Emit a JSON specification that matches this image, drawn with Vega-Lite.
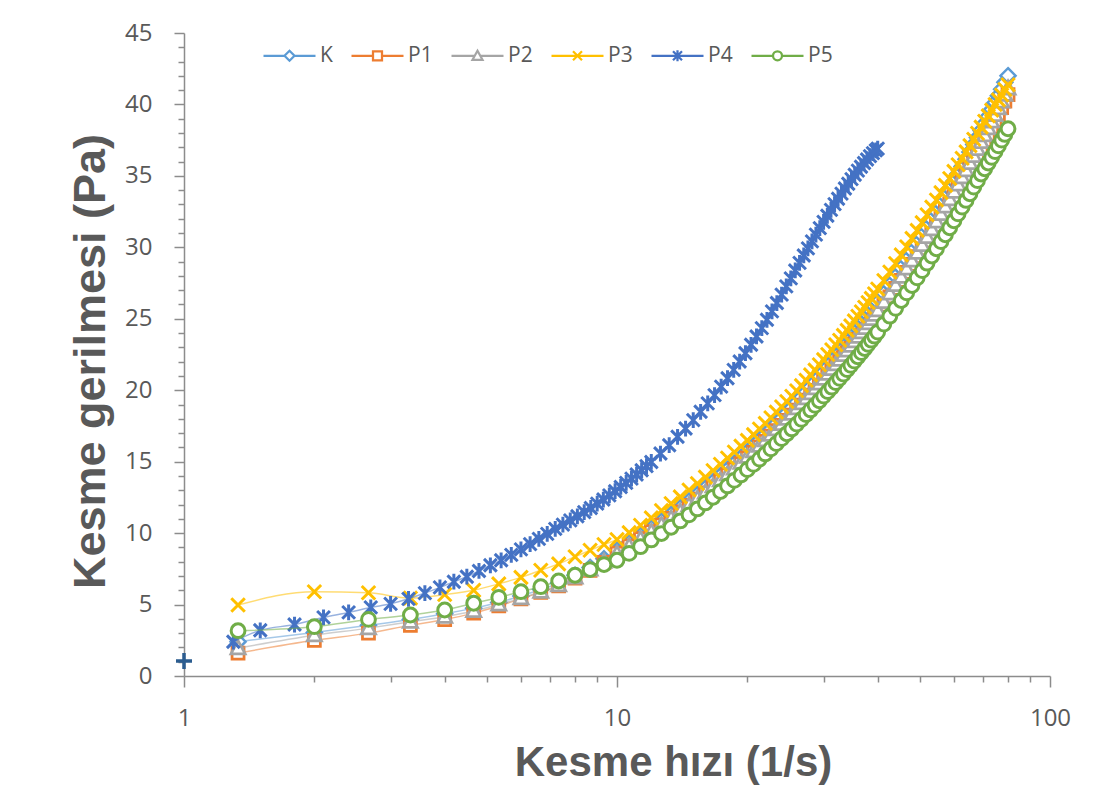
{
"$schema":"https://vega.github.io/schema/vega-lite/v6.json",
"width":866,"height":643,
"autosize":{"type":"none"},
"padding":{"left":184,"top":33,"right":53,"bottom":129},
"background":"white",
"config":{"view":{"stroke":null}},
"data":{"values":[
{"x":1.333,"K":2.40,"P1":1.60,"P2":1.95,"P3":4.97,"P5":3.17},
{"x":2.0,"K":3.05,"P1":2.50,"P2":2.85,"P3":5.90,"P5":3.45},
{"x":2.667,"K":3.55,"P1":3.00,"P2":3.35,"P3":5.83,"P5":3.96},
{"x":3.333,"K":3.95,"P1":3.55,"P2":3.80,"P3":5.45,"P5":4.27},
{"x":4.0,"K":4.35,"P1":3.95,"P2":4.15,"P3":5.70,"P5":4.62},
{"x":4.667,"K":4.75,"P1":4.40,"P2":4.55,"P3":6.00,"P5":5.09},
{"x":5.333,"K":5.15,"P1":4.90,"P2":5.00,"P3":6.45,"P5":5.50},
{"x":6.0,"K":5.60,"P1":5.40,"P2":5.45,"P3":6.90,"P5":5.90},
{"x":6.667,"K":6.05,"P1":5.85,"P2":5.90,"P3":7.40,"P5":6.25},
{"x":7.333,"K":6.50,"P1":6.30,"P2":6.35,"P3":7.85,"P5":6.65},
{"x":8.0,"K":7.05,"P1":6.85,"P2":6.90,"P3":8.35,"P5":7.05},
{"x":8.667,"K":7.60,"P1":7.40,"P2":7.45,"P3":8.80,"P5":7.45},
{"x":9.333,"K":8.20,"P1":7.95,"P2":8.00,"P3":9.20,"P5":7.80},
{"x":10.0,"K":8.80,"P1":8.60,"P2":8.57,"P3":9.55,"P5":8.10},
{"x":10.667,"K":9.33,"P1":9.11,"P2":9.09,"P3":10.03,"P5":8.58},
{"x":11.333,"K":9.84,"P1":9.61,"P2":9.59,"P3":10.55,"P5":9.05},
{"x":12.0,"K":10.35,"P1":10.10,"P2":10.09,"P3":11.07,"P5":9.52},
{"x":12.667,"K":10.84,"P1":10.57,"P2":10.57,"P3":11.58,"P5":9.97},
{"x":13.333,"K":11.32,"P1":11.04,"P2":11.04,"P3":12.07,"P5":10.41},
{"x":14.0,"K":11.79,"P1":11.49,"P2":11.50,"P3":12.54,"P5":10.85},
{"x":14.667,"K":12.26,"P1":11.94,"P2":11.96,"P3":13.02,"P5":11.28},
{"x":15.333,"K":12.71,"P1":12.38,"P2":12.41,"P3":13.47,"P5":11.69},
{"x":16.0,"K":13.16,"P1":12.81,"P2":12.85,"P3":13.92,"P5":12.11},
{"x":16.667,"K":13.60,"P1":13.24,"P2":13.28,"P3":14.38,"P5":12.51},
{"x":17.333,"K":14.03,"P1":13.65,"P2":13.70,"P3":14.82,"P5":12.91},
{"x":18.0,"K":14.46,"P1":14.07,"P2":14.12,"P3":15.26,"P5":13.30},
{"x":18.667,"K":14.88,"P1":14.47,"P2":14.53,"P3":15.68,"P5":13.69},
{"x":19.333,"K":15.29,"P1":14.87,"P2":14.93,"P3":16.09,"P5":14.07},
{"x":20.0,"K":15.70,"P1":15.27,"P2":15.34,"P3":16.49,"P5":14.44},
{"x":20.667,"K":16.10,"P1":15.65,"P2":15.73,"P3":16.89,"P5":14.81},
{"x":21.333,"K":16.50,"P1":16.04,"P2":16.12,"P3":17.29,"P5":15.18},
{"x":22.0,"K":16.89,"P1":16.42,"P2":16.50,"P3":17.68,"P5":15.54},
{"x":22.667,"K":17.28,"P1":16.79,"P2":16.88,"P3":18.07,"P5":15.90},
{"x":23.333,"K":17.67,"P1":17.17,"P2":17.27,"P3":18.47,"P5":16.26},
{"x":24.0,"K":18.05,"P1":17.54,"P2":17.64,"P3":18.84,"P5":16.61},
{"x":24.667,"K":18.42,"P1":17.89,"P2":18.00,"P3":19.21,"P5":16.95},
{"x":25.333,"K":18.79,"P1":18.25,"P2":18.36,"P3":19.58,"P5":17.29},
{"x":26.0,"K":19.16,"P1":18.61,"P2":18.73,"P3":19.96,"P5":17.63},
{"x":26.667,"K":19.52,"P1":18.96,"P2":19.08,"P3":20.32,"P5":17.96},
{"x":27.333,"K":19.88,"P1":19.30,"P2":19.43,"P3":20.70,"P5":18.29},
{"x":28.0,"K":20.24,"P1":19.65,"P2":19.79,"P3":21.07,"P5":18.62},
{"x":28.667,"K":20.59,"P1":19.99,"P2":20.13,"P3":21.41,"P5":18.94},
{"x":29.333,"K":20.94,"P1":20.33,"P2":20.47,"P3":21.78,"P5":19.26},
{"x":30.0,"K":21.29,"P1":20.67,"P2":20.81,"P3":22.14,"P5":19.59},
{"x":30.667,"K":21.63,"P1":20.99,"P2":21.15,"P3":22.50,"P5":19.90},
{"x":31.333,"K":21.97,"P1":21.32,"P2":21.48,"P3":22.83,"P5":20.21},
{"x":32.0,"K":22.31,"P1":21.65,"P2":21.81,"P3":23.18,"P5":20.53},
{"x":32.667,"K":22.64,"P1":21.97,"P2":22.14,"P3":23.50,"P5":20.83},
{"x":33.333,"K":22.97,"P1":22.29,"P2":22.46,"P3":23.84,"P5":21.13},
{"x":34.0,"K":23.30,"P1":22.61,"P2":22.78,"P3":24.19,"P5":21.44},
{"x":34.667,"K":23.63,"P1":22.93,"P2":23.11,"P3":24.50,"P5":21.74},
{"x":35.333,"K":23.96,"P1":23.25,"P2":23.43,"P3":24.85,"P5":22.04},
{"x":36.0,"K":24.28,"P1":23.55,"P2":23.74,"P3":25.18,"P5":22.34},
{"x":36.667,"K":24.60,"P1":23.86,"P2":24.06,"P3":25.49,"P5":22.63},
{"x":37.333,"K":24.91,"P1":24.16,"P2":24.36,"P3":25.81,"P5":22.92},
{"x":38.0,"K":25.23,"P1":24.47,"P2":24.68,"P3":26.14,"P5":23.21},
{"x":38.667,"K":25.54,"P1":24.77,"P2":24.98,"P3":26.43,"P5":23.50},
{"x":39.333,"K":25.85,"P1":25.07,"P2":25.28,"P3":26.75,"P5":23.78},
{"x":40.0,"K":26.16,"P1":25.37,"P2":25.59,"P3":27.08,"P5":24.07},
{"x":41.333,"K":26.77,"P1":25.96,"P2":26.18,"P3":27.68,"P5":24.63},
{"x":42.667,"K":27.37,"P1":26.54,"P2":26.77,"P3":28.27,"P5":25.18},
{"x":44.0,"K":27.97,"P1":27.12,"P2":27.36,"P3":28.87,"P5":25.73},
{"x":45.333,"K":28.56,"P1":27.69,"P2":27.94,"P3":29.47,"P5":26.28},
{"x":46.667,"K":29.14,"P1":28.25,"P2":28.51,"P3":30.04,"P5":26.81},
{"x":48.0,"K":29.71,"P1":28.80,"P2":29.07,"P3":30.63,"P5":27.33},
{"x":49.333,"K":30.28,"P1":29.35,"P2":29.62,"P3":31.19,"P5":27.86},
{"x":50.667,"K":30.84,"P1":29.89,"P2":30.17,"P3":31.73,"P5":28.37},
{"x":52.0,"K":31.40,"P1":30.43,"P2":30.72,"P3":32.28,"P5":28.89},
{"x":53.333,"K":31.95,"P1":30.96,"P2":31.26,"P3":32.81,"P5":29.39},
{"x":54.667,"K":32.50,"P1":31.50,"P2":31.80,"P3":33.31,"P5":29.90},
{"x":56.0,"K":33.04,"P1":32.02,"P2":32.33,"P3":33.83,"P5":30.40},
{"x":57.333,"K":33.57,"P1":32.53,"P2":32.85,"P3":34.34,"P5":30.88},
{"x":58.667,"K":34.10,"P1":33.04,"P2":33.37,"P3":34.82,"P5":31.37},
{"x":60.0,"K":34.63,"P1":33.55,"P2":33.89,"P3":35.32,"P5":31.86},
{"x":61.333,"K":35.15,"P1":34.05,"P2":34.40,"P3":35.78,"P5":32.34},
{"x":62.667,"K":35.66,"P1":34.55,"P2":34.90,"P3":36.23,"P5":32.81},
{"x":64.0,"K":36.17,"P1":35.04,"P2":35.40,"P3":36.68,"P5":33.28},
{"x":65.333,"K":36.68,"P1":35.53,"P2":35.90,"P3":37.12,"P5":33.75},
{"x":66.667,"K":37.19,"P1":36.03,"P2":36.40,"P3":37.56,"P5":34.21},
{"x":68.0,"K":37.68,"P1":36.50,"P2":36.88,"P3":37.98,"P5":34.67},
{"x":69.333,"K":38.18,"P1":36.98,"P2":37.37,"P3":38.41,"P5":35.13},
{"x":70.667,"K":38.67,"P1":37.46,"P2":37.85,"P3":38.82,"P5":35.50},
{"x":72.0,"K":39.16,"P1":37.93,"P2":38.33,"P3":39.20,"P5":35.90},
{"x":73.333,"K":39.64,"P1":38.39,"P2":38.80,"P3":39.60,"P5":36.30},
{"x":74.667,"K":40.12,"P1":38.86,"P2":39.27,"P3":40.00,"P5":36.70},
{"x":76.0,"K":40.60,"P1":39.32,"P2":39.74,"P3":40.32,"P5":37.10},
{"x":77.333,"K":41.07,"P1":39.77,"P2":40.20,"P3":40.66,"P5":37.50},
{"x":78.667,"K":41.55,"P1":40.24,"P2":40.67,"P3":41.05,"P5":37.90},
{"x":80.0,"K":42.01,"P1":40.68,"P2":41.12,"P3":41.38,"P5":38.30},
{"x":1.3,"P4":2.4},{"x":1.5,"P4":3.2},{"x":1.8,"P4":3.6},{"x":2.1,"P4":4.1},{"x":2.4,"P4":4.45},
{"x":2.7,"P4":4.8},{"x":3.0,"P4":5.05},{"x":3.3,"P4":5.4},{"x":3.6,"P4":5.8},{"x":3.9,"P4":6.2},
{"x":4.2,"P4":6.6},{"x":4.5,"P4":6.95},{"x":4.8,"P4":7.35},{"x":5.1,"P4":7.75},{"x":5.4,"P4":8.1},
{"x":5.7,"P4":8.48},{"x":6.0,"P4":8.86},{"x":6.3,"P4":9.23},{"x":6.6,"P4":9.6},{"x":6.9,"P4":9.95},
{"x":7.2,"P4":10.3},{"x":7.5,"P4":10.59},{"x":7.8,"P4":10.89},{"x":8.1,"P4":11.18},{"x":8.4,"P4":11.47},
{"x":8.7,"P4":11.76},{"x":9.0,"P4":12.06},{"x":9.3,"P4":12.35},{"x":9.6,"P4":12.64},{"x":9.9,"P4":12.93},
{"x":10.2,"P4":13.23},{"x":10.5,"P4":13.52},{"x":10.8,"P4":13.81},{"x":11.1,"P4":14.10},{"x":11.4,"P4":14.40},
{"x":11.7,"P4":14.69},{"x":12.0,"P4":14.98},{"x":12.6,"P4":15.57},{"x":13.2,"P4":16.15},{"x":13.8,"P4":16.74},
{"x":14.4,"P4":17.32},{"x":15.0,"P4":17.91},{"x":15.6,"P4":18.49},{"x":16.2,"P4":19.08},{"x":16.8,"P4":19.66},
{"x":17.4,"P4":20.25},{"x":18.0,"P4":20.84},{"x":18.6,"P4":21.42},{"x":19.2,"P4":22.01},{"x":19.8,"P4":22.59},
{"x":20.4,"P4":23.18},{"x":21.0,"P4":23.76},{"x":21.6,"P4":24.35},{"x":22.2,"P4":24.93},{"x":22.8,"P4":25.52},
{"x":23.4,"P4":26.10},{"x":24.0,"P4":26.69},{"x":24.6,"P4":27.27},{"x":25.2,"P4":27.83},{"x":25.8,"P4":28.38},
{"x":26.4,"P4":28.91},{"x":27.0,"P4":29.43},{"x":27.6,"P4":29.93},{"x":28.2,"P4":30.42},{"x":28.8,"P4":30.89},
{"x":29.4,"P4":31.34},{"x":30.0,"P4":31.78},{"x":30.6,"P4":32.21},{"x":31.2,"P4":32.62},{"x":31.8,"P4":33.02},
{"x":32.4,"P4":33.40},{"x":33.0,"P4":33.76},{"x":33.6,"P4":34.12},{"x":34.2,"P4":34.45},{"x":34.8,"P4":34.77},
{"x":35.4,"P4":35.08},{"x":36.0,"P4":35.37},{"x":36.6,"P4":35.64},{"x":37.2,"P4":35.90},{"x":37.8,"P4":36.15},
{"x":38.4,"P4":36.38},{"x":39.0,"P4":36.59},{"x":39.6,"P4":36.79},{"x":40.0,"P4":36.91}
]},
"transform":[
{"fold":["K","P1","P2","P3","P4","P5"],"as":["s","y"]},
{"filter":"isValid(datum.y)"}
],
"resolve":{"axis":{"x":"independent","y":"independent"}},
"layer":[
{"transform":[{"filter":"datum.s == 'K'"}],
 "mark":{"type":"line","interpolate":"monotone","stroke":"#5B9BD5","strokeWidth":1.5,"strokeOpacity":0.55},
 "encoding":{
  "x":{"field":"x","type":"quantitative","scale":{"type":"log","domain":[1,100],"nice":false},
   "axis":{"orient":"bottom","values":[1,10,100],"format":"~g","grid":false,"tickSize":11,"labelPadding":19,"labelFont":"Open Sans","labelFontSize":24,"labelColor":"#595959","labelFlush":false,"domainColor":"#8c8c8c","domainWidth":1.5,"tickColor":"#8c8c8c","tickWidth":1.5,
    "title":"Kesme hızı (1/s)","titleFont":"Liberation Sans","titleFontSize":42,"titleFontWeight":"bold","titleColor":"#595959","titleX":489,"titleY":99,"titleAlign":"center","titleBaseline":"alphabetic"}},
  "y":{"field":"y","type":"quantitative","scale":{"domain":[0,45],"nice":false,"zero":false},
   "axis":{"orient":"left","values":[0,5,10,15,20,25,30,35,40,45],"grid":false,"tickSize":10,"labelPadding":22,"labelFont":"Open Sans","labelFontSize":24,"labelColor":"#595959","domainColor":"#8c8c8c","domainWidth":1.5,"tickColor":"#8c8c8c","tickWidth":1.5,
    "title":"Kesme gerilmesi (Pa)","titleFont":"Liberation Sans","titleFontSize":45,"titleFontWeight":"bold","titleColor":"#595959","titleAngle":270,"titleX":-80,"titleY":328,"titleAlign":"center","titleBaseline":"alphabetic"}}
 }},
{"transform":[{"filter":"datum.s == 'K'"}],
 "mark":{"type":"point","shape":"M0,-1L1,0L0,1L-1,0Z","size":225,"filled":false,"fill":"white","stroke":"#5B9BD5","strokeWidth":2.5,"opacity":1},
 "encoding":{"x":{"field":"x","type":"quantitative","axis":null},"y":{"field":"y","type":"quantitative","axis":null}}},
{"transform":[{"filter":"datum.s == 'P1'"}],
 "mark":{"type":"line","interpolate":"monotone","stroke":"#ED7D31","strokeWidth":1.5,"strokeOpacity":0.55},
 "encoding":{"x":{"field":"x","type":"quantitative","axis":null},"y":{"field":"y","type":"quantitative","axis":null}}},
{"transform":[{"filter":"datum.s == 'P1'"}],
 "mark":{"type":"point","shape":"M-0.8,-0.8H0.8V0.8H-0.8Z","size":225,"filled":false,"fill":"white","stroke":"#ED7D31","strokeWidth":2.75,"opacity":1},
 "encoding":{"x":{"field":"x","type":"quantitative","axis":null},"y":{"field":"y","type":"quantitative","axis":null}}},
{"transform":[{"filter":"datum.s == 'P2'"}],
 "mark":{"type":"line","interpolate":"monotone","stroke":"#A5A5A5","strokeWidth":1.5,"strokeOpacity":0.55},
 "encoding":{"x":{"field":"x","type":"quantitative","axis":null},"y":{"field":"y","type":"quantitative","axis":null}}},
{"transform":[{"filter":"datum.s == 'P2'"}],
 "mark":{"type":"point","shape":"M0,-1L0.95,0.75H-0.95Z","size":225,"filled":false,"fill":"white","stroke":"#A5A5A5","strokeWidth":2.75,"opacity":1},
 "encoding":{"x":{"field":"x","type":"quantitative","axis":null},"y":{"field":"y","type":"quantitative","axis":null}}},
{"transform":[{"filter":"datum.s == 'P3'"}],
 "mark":{"type":"line","interpolate":"monotone","stroke":"#FFC000","strokeWidth":1.5,"strokeOpacity":0.55},
 "encoding":{"x":{"field":"x","type":"quantitative","axis":null},"y":{"field":"y","type":"quantitative","axis":null}}},
{"transform":[{"filter":"datum.s == 'P3'"}],
 "mark":{"type":"point","shape":"M-0.9,-0.9L0.9,0.9M-0.9,0.9L0.9,-0.9","size":225,"filled":false,"stroke":"#FFC000","strokeWidth":3,"opacity":1},
 "encoding":{"x":{"field":"x","type":"quantitative","axis":null},"y":{"field":"y","type":"quantitative","axis":null}}},
{"transform":[{"filter":"datum.s == 'P4'"}],
 "mark":{"type":"line","interpolate":"monotone","stroke":"#4472C4","strokeWidth":1.5,"strokeOpacity":0.55},
 "encoding":{"x":{"field":"x","type":"quantitative","axis":null},"y":{"field":"y","type":"quantitative","axis":null}}},
{"transform":[{"filter":"datum.s == 'P4'"}],
 "mark":{"type":"point","shape":"M-0.85,-0.85L0.85,0.85M-0.85,0.85L0.85,-0.85M0,-1.05V1.05","size":225,"filled":false,"stroke":"#4472C4","strokeWidth":3,"opacity":1},
 "encoding":{"x":{"field":"x","type":"quantitative","axis":null},"y":{"field":"y","type":"quantitative","axis":null}}},
{"transform":[{"filter":"datum.s == 'P5'"}],
 "mark":{"type":"line","interpolate":"monotone","stroke":"#70AD47","strokeWidth":1.5,"strokeOpacity":0.55},
 "encoding":{"x":{"field":"x","type":"quantitative","axis":null},"y":{"field":"y","type":"quantitative","axis":null}}},
{"transform":[{"filter":"datum.s == 'P5'"}],
 "mark":{"type":"point","shape":"M0.92,0A0.92,0.92,0,1,1,-0.92,0A0.92,0.92,0,1,1,0.92,0Z","size":225,"filled":false,"fill":"white","stroke":"#70AD47","strokeWidth":3,"opacity":1},
 "encoding":{"x":{"field":"x","type":"quantitative","axis":null},"y":{"field":"y","type":"quantitative","axis":null}}},
{"data":{"values":[{"x":1,"y":1.05}]},
 "mark":{"type":"point","shape":"M-1,0H1M0,-1V1","size":256,"filled":false,"stroke":"#2B5C8F","strokeWidth":3.5,"opacity":1},
 "encoding":{"x":{"field":"x","type":"quantitative","axis":null},"y":{"field":"y","type":"quantitative","axis":null}}},
{"data":{"values":[{"s":"K","x":80,"y":42.01},{"s":"P1","x":80,"y":40.68},{"s":"P2","x":80,"y":41.12},{"s":"P3","x":80,"y":41.38},{"s":"P4","x":40,"y":36.91},{"s":"P5","x":80,"y":38.3}]},
 "mark":{"type":"point","filled":false,"fill":"white","size":0,"strokeWidth":2.25},
 "encoding":{
  "x":{"field":"x","type":"quantitative","axis":{"orient":"bottom","values":[2,3,4,5,6,7,8,9,20,30,40,50,60,70,80,90],"labels":false,"domain":false,"grid":false,"title":null,"tickSize":6,"tickColor":"#8c8c8c","tickWidth":1.5}},
  "y":{"field":"y","type":"quantitative","axis":{"orient":"left","values":[1,2,3,4,6,7,8,9,11,12,13,14,16,17,18,19,21,22,23,24,26,27,28,29,31,32,33,34,36,37,38,39,41,42,43,44],"labels":false,"domain":false,"grid":false,"title":null,"tickSize":6,"tickColor":"#8c8c8c","tickWidth":1.5}},
  "color":{"field":"s","type":"nominal","scale":{"domain":["K","P1","P2","P3","P4","P5"],"range":["#5B9BD5","#ED7D31","#A5A5A5","#FFC000","#4472C4","#70AD47"]},
   "legend":{"title":null,"orient":"none","legendX":95,"legendY":12,"direction":"horizontal","columns":6,"symbolSize":100,"symbolStrokeWidth":2.25,"symbolOpacity":1,"symbolFillColor":"white","labelFont":"Open Sans","labelFontSize":21,"labelColor":"#595959","labelOffset":20,"columnPadding":14,"padding":0}},
  "shape":{"field":"s","type":"nominal","scale":{"domain":["K","P1","P2","P3","P4","P5"],"range":[
    "M-5.2,0H-1M1,0H5.2M0,-1L1,0L0,1L-1,0Z",
    "M-5.2,0H-0.9M0.9,0H5.2M-0.9,-0.9H0.9V0.9H-0.9Z",
    "M-5.2,0H-0.55M0.55,0H5.2M0,-1L1,0.8H-1Z",
    "M-5.2,0H5.2M-0.9,-0.9L0.9,0.9M-0.9,0.9L0.9,-0.9",
    "M-5.2,0H5.2M-0.9,-0.9L0.9,0.9M-0.9,0.9L0.9,-0.9M0,-1.1V1.1",
    "M-5.2,0H-0.9M0.9,0H5.2M0.9,0A0.9,0.9,0,1,1,-0.9,0A0.9,0.9,0,1,1,0.9,0Z"]},
   "legend":{"title":null,"orient":"none","legendX":95,"legendY":12,"direction":"horizontal","columns":6,"symbolSize":100,"symbolStrokeWidth":2.25,"symbolOpacity":1,"symbolFillColor":"white","labelFont":"Open Sans","labelFontSize":21,"labelColor":"#595959","labelOffset":20,"columnPadding":14,"padding":0}}
 }}
]
}
